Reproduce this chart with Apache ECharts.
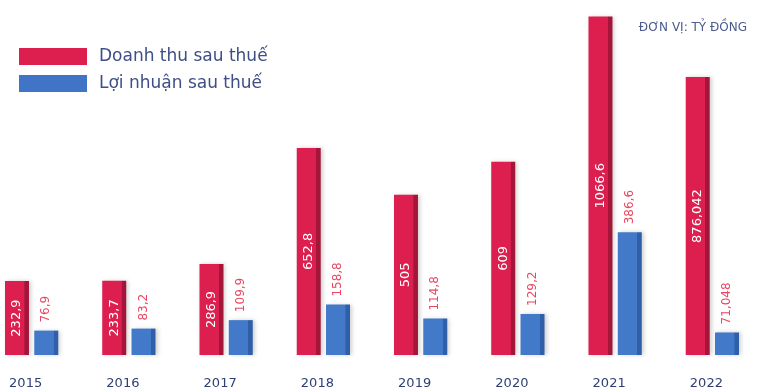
<!DOCTYPE html>
<html>
<head>
<meta charset="utf-8">
<script src="https://cdn.jsdelivr.net/npm/echarts@6/dist/echarts.min.js"></script>
<style>
  html, body { margin: 0; padding: 0; background: #ffffff; }
  #chart { width: 760px; height: 391px; }
</style>
</head>
<body>
<div id="chart"></div>
<script>
// Years and results (unit: billion VND)
const years = ['2015', '2016', '2017', '2018', '2019', '2020', '2021', '2022'];
const revenueAfterTax = [232.9, 233.7, 286.9, 652.8, 505, 609, 1066.6, 876.042];
const profitAfterTax = [76.9, 83.2, 109.9, 158.8, 114.8, 129.2, 386.6, 71.048];
const seriesNames = ['Doanh thu sau thuế', 'Lợi nhuận sau thuế'];
const unitNote = 'ĐƠN VỊ: TỶ ĐỒNG';

const FONT = '"DejaVu Sans", "Noto Sans", sans-serif';
const fmt = v => String(v).replace('.', ',');

// Faux 3D bar face: main colour with a darker strip on the right edge
function face(main, edge) {
  return new echarts.graphic.LinearGradient(0, 0, 1, 0, [
    { offset: 0, color: main },
    { offset: 0.8, color: main },
    { offset: 0.82, color: edge },
    { offset: 1, color: edge }
  ]);
}

const chart = echarts.init(document.getElementById('chart'), null, { renderer: 'canvas' });
chart.setOption({
  backgroundColor: '#ffffff',
  animation: false,
  title: {
    text: unitNote,
    right: 8,
    top: 17,
    textStyle: { fontFamily: FONT, fontSize: 12, fontWeight: 'normal', color: '#4a5a8c' }
  },
  legend: {
    orient: 'vertical',
    left: 14,
    top: 43,
    itemWidth: 68,
    itemHeight: 17,
    itemGap: 10,
    icon: 'rect',
    data: [
      { name: seriesNames[0], itemStyle: { color: '#dc1f4e' } },
      { name: seriesNames[1], itemStyle: { color: '#3f74c6' } }
    ],
    textStyle: { fontFamily: FONT, fontSize: 17, color: '#3e4f86', padding: [0, 0, 0, 7] }
  },
  grid: { left: -17, right: -1, top: 6, bottom: 36, outerBoundsMode: 'none', containLabel: false },
  xAxis: {
    type: 'category',
    data: years,
    boundaryGap: true,
    axisLine: { show: false },
    axisTick: { show: false },
    axisLabel: {
      margin: 22,
      fontFamily: FONT,
      fontSize: 13,
      color: '#2f3f73',
      padding: [0, 12, 0, 0]
    }
  },
  yAxis: {
    type: 'value',
    min: 0,
    max: 1100,
    show: false,
    splitLine: { show: false }
  },
  series: [
    {
      name: seriesNames[0],
      type: 'bar',
      data: revenueAfterTax,
      barWidth: 24,
      barGap: '22%',
      itemStyle: {
        color: face('#dc1f4e', '#a3163a'),
        shadowColor: 'rgba(0,0,0,0.18)',
        shadowBlur: 4,
        shadowOffsetX: 2
      },
      label: {
        show: true,
        position: 'inside',
        rotate: 90,
        formatter: p => fmt(p.value),
        fontFamily: FONT,
        fontSize: 13,
        color: '#ffffff'
      }
    },
    {
      name: seriesNames[1],
      type: 'bar',
      data: profitAfterTax,
      barWidth: 24,
      itemStyle: {
        color: face('#4279c9', '#2f5fa8'),
        shadowColor: 'rgba(0,0,0,0.18)',
        shadowBlur: 4,
        shadowOffsetX: 2
      },
      label: {
        show: true,
        position: 'top',
        rotate: 90,
        align: 'left',
        verticalAlign: 'middle',
        distance: 8,
        formatter: p => fmt(p.value),
        fontFamily: FONT,
        fontSize: 12,
        color: '#ea4660'
      }
    }
  ]
});
</script>
</body>
</html>
